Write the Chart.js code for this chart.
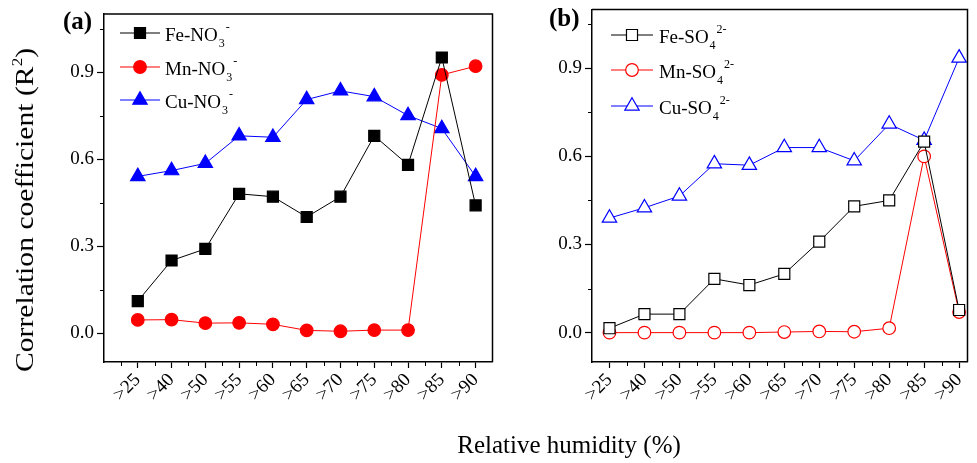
<!DOCTYPE html>
<html>
<head>
<meta charset="utf-8">
<script src="https://cdn.jsdelivr.net/npm/chart.js@4.4.1/dist/chart.umd.min.js"></script>
<style>
body { margin: 0; background: #fff; }
#wrap { position: relative; width: 977px; height: 463px; overflow: hidden; font-family: "Liberation Serif", "Times New Roman", serif; color: #000; }
canvas { position: absolute; top: 0; }
#chartA { left: 0; }
#chartB { left: 500px; }
.panel { position: absolute; font-weight: bold; font-size: 25px; line-height: 1; }
#ytitle { position: absolute; left: 25px; top: 210px; font-size: 26px; line-height: 1; white-space: nowrap;
  transform: translate(-50%, -50%) rotate(-90deg) scaleX(1.14); }
#ytitle sup { font-size: 15px; vertical-align: 11px; line-height: 0; }
#xtitle { position: absolute; left: 569px; top: 432px; font-size: 25px; line-height: 1; white-space: nowrap; transform: translateX(-50%); }
</style>
</head>
<body>
<div id="wrap">
  <canvas id="chartA" width="502" height="463"></canvas>
  <canvas id="chartB" width="477" height="463"></canvas>
  <div class="panel" style="left:63px; top:8px;">(a)</div>
  <div class="panel" style="left:549px; top:5px;">(b)</div>
  <div id="ytitle">Correlation coefficient (R<sup>2</sup>)</div>
  <div id="xtitle">Relative humidity (%)</div>
</div>
<script>
const categories = ['>25', '>40', '>50', '>55', '>60', '>65', '>70', '>75', '>80', '>85', '>90']

// panel (a) nitrate
const feNO3 = [0.11, 0.25, 0.29, 0.48, 0.47, 0.40, 0.47, 0.68, 0.58, 0.95, 0.44]
const mnNO3 = [0.045, 0.046, 0.034, 0.035, 0.030, 0.009, 0.006, 0.010, 0.010, 0.89, 0.92]
const cuNO3 = [0.54, 0.56, 0.585, 0.68, 0.675, 0.805, 0.835, 0.815, 0.75, 0.705, 0.54]

// panel (b) sulfate
const feSO4 = [0.015, 0.063, 0.063, 0.183, 0.162, 0.200, 0.31, 0.43, 0.45, 0.65, 0.077]
const mnSO4 = [0.0, 0.0, 0.0, 0.0, 0.0, 0.002, 0.004, 0.003, 0.015, 0.60, 0.07]
const cuSO4 = [0.39, 0.425, 0.465, 0.575, 0.57, 0.63, 0.63, 0.585, 0.71, 0.655, 0.935]

const yTickValues = [0, 0.3, 0.6, 0.9]
const yMinorValues = [0.15, 0.45, 0.75, 1.05]

const nitrateNames = [['Fe-NO', '3', '-'], ['Mn-NO', '3', '-'], ['Cu-NO', '3', '-']]
const sulfateNames = [['Fe-SO', '4', '2-'], ['Mn-SO', '4', '2-'], ['Cu-SO', '4', '2-']]

const FONT = '"Liberation Serif", "Times New Roman", serif'

function series(values) {
    return values.map((v, i) => ({ x: i + 1, y: v }))
}

function makeSets(names, fe, mn, cu, filled) {
    return [
        { label: names[0].join(''), data: series(fe), borderColor: '#000', borderWidth: 1,
          pointStyle: 'rect', pointRadius: 7.8, pointBorderColor: '#000', pointBorderWidth: 1.2,
          pointBackgroundColor: filled ? '#000' : '#fff', clip: false },
        { label: names[1].join(''), data: series(mn), borderColor: '#ff0000', borderWidth: 1,
          pointStyle: 'circle', pointRadius: 6.3, pointBorderColor: '#ff0000', pointBorderWidth: 1.2,
          pointBackgroundColor: filled ? '#ff0000' : '#fff', clip: false },
        { label: names[2].join(''), data: series(cu), borderColor: '#0000ff', borderWidth: 1,
          pointStyle: 'triangle', pointRadius: 8.3, pointBorderColor: '#0000ff', pointBorderWidth: 1.2,
          pointBackgroundColor: filled ? '#0000ff' : '#fff', clip: false }
    ]
}

// frame, minor ticks and a legend with sub/superscripts
const framePlugin = {
    id: 'frame',
    afterDraw(chart, args, opts) {
        const { ctx, chartArea: a, scales: { x, y } } = chart
        ctx.save()
        ctx.strokeStyle = '#000'
        ctx.lineWidth = 1.5
        ctx.beginPath()
        ctx.moveTo(a.left, a.top)
        ctx.lineTo(a.right, a.top)
        ctx.lineTo(a.right, a.bottom)
        ctx.stroke()

        ctx.lineWidth = 1
        ctx.beginPath()
        for (let i = 0; i <= categories.length; i++) {
            const v = i + 0.5
            if (v <= x.min || v >= x.max) continue
            const px = Math.round(x.getPixelForValue(v)) + 0.5
            ctx.moveTo(px, a.bottom)
            ctx.lineTo(px, a.bottom + 4)
        }
        yMinorValues.forEach(v => {
            const py = Math.round(y.getPixelForValue(v)) + 0.5
            ctx.moveTo(a.left, py)
            ctx.lineTo(a.left - 4, py)
        })
        ctx.stroke()

        chart.data.datasets.forEach((ds, i) => {
            const rowY = opts.rows[i]
            ctx.strokeStyle = ds.borderColor
            ctx.lineWidth = 1
            ctx.beginPath()
            ctx.moveTo(opts.lineX[0], rowY)
            ctx.lineTo(opts.lineX[1], rowY)
            ctx.stroke()
            ctx.fillStyle = ds.pointBackgroundColor
            ctx.strokeStyle = ds.pointBorderColor
            ctx.lineWidth = ds.pointBorderWidth
            Chart.helpers.drawPoint(ctx, { pointStyle: ds.pointStyle, radius: ds.pointRadius, borderWidth: ds.pointBorderWidth, rotation: 0 },
                (opts.lineX[0] + opts.lineX[1]) / 2, rowY)

            const parts = opts.names[i]
            let tx = opts.textX
            ctx.fillStyle = '#000'
            ctx.textBaseline = 'alphabetic'
            ctx.textAlign = 'left'
            ctx.font = '19px ' + FONT
            ctx.fillText(parts[0], tx, rowY + 8)
            tx += ctx.measureText(parts[0]).width + 1
            ctx.font = '12px ' + FONT
            ctx.fillText(parts[1], tx, rowY + 14)
            tx += ctx.measureText(parts[1]).width + 1
            ctx.fillText(parts[2], tx, rowY - 2)
        })
        ctx.restore()
    }
}

function makeOptions(xMin, xMax, padTop, padRight, yWidth, legend) {
    return {
        responsive: false,
        animation: false,
        layout: { padding: { top: padTop, right: padRight, left: 0, bottom: 0 } },
        plugins: { legend: { display: false }, tooltip: { enabled: false }, frame: legend },
        scales: {
            x: {
                type: 'linear', min: xMin, max: xMax,
                afterBuildTicks: s => { s.ticks = categories.map((c, i) => ({ value: i + 1 })) },
                afterFit: s => { s.height = 101; s.paddingLeft = 0; s.paddingRight = 0 },
                ticks: { autoSkip: false, minRotation: 45, maxRotation: 45, padding: 1, color: '#000',
                         font: { family: FONT, size: 19 }, callback: v => categories[v - 1] },
                grid: { drawOnChartArea: false, drawTicks: true, tickLength: 6, tickColor: '#000', tickWidth: 1.2 },
                border: { display: true, color: '#000', width: 1.5 }
            },
            y: {
                min: -0.1, max: 1.1,
                afterBuildTicks: s => { s.ticks = yTickValues.map(v => ({ value: v })) },
                afterFit: s => { s.width = yWidth; s.paddingTop = 0; s.paddingBottom = 0 },
                ticks: { padding: 3, color: '#000', font: { family: FONT, size: 19 }, callback: v => v.toFixed(1) },
                grid: { drawOnChartArea: false, drawTicks: true, tickLength: 7, tickColor: '#000', tickWidth: 1.2 },
                border: { display: true, color: '#000', width: 1.5 }
            }
        }
    }
}

const chartA = new Chart(document.getElementById('chartA'), {
    type: 'line',
    data: { datasets: makeSets(nitrateNames, feNO3, mnNO3, cuNO3, true) },
    options: makeOptions(0, 11.5, 14, 3, 104, { rows: [33, 67, 100], lineX: [120, 160], textX: 165, names: nitrateNames }),
    plugins: [framePlugin]
})

const chartB = new Chart(document.getElementById('chartB'), {
    type: 'line',
    data: { datasets: makeSets(sulfateNames, feSO4, mnSO4, cuSO4, false) },
    options: makeOptions(0.5, 11.24, 9, 0, 92, { rows: [35, 70, 106], lineX: [111, 153], textX: 159, names: sulfateNames }),
    plugins: [framePlugin]
})
</script>
</body>
</html>
